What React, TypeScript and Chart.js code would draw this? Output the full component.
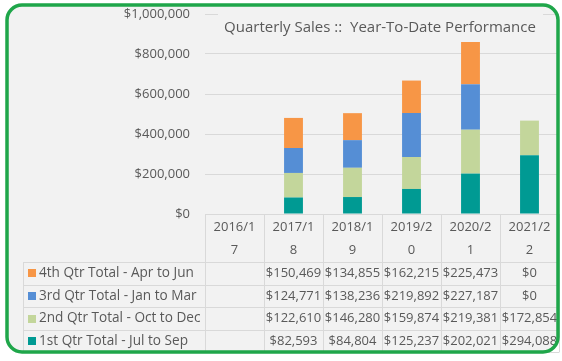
import React, { useEffect, useRef } from 'react';
import { Chart, registerables } from 'chart.js';

Chart.register(...registerables);

const categories = ['2016/17', '2017/18', '2018/19', '2019/20', '2020/21', '2021/22'];
const q1Values = [null, 82593, 84804, 125237, 202021, 294088];
const q2Values = [null, 122610, 146280, 159874, 219381, 172854];
const q3Values = [null, 124771, 138236, 219892, 227187, 0];
const q4Values = [null, 150469, 134855, 162215, 225473, 0];
const seriesNames = [
  '1st Qtr Total - Jul to Sep',
  '2nd Qtr Total - Oct to Dec',
  '3rd Qtr Total - Jan to Mar',
  '4th Qtr Total - Apr to Jun',
];
const seriesColors = ['#009A93', '#C3D69B', '#558ED5', '#F79646'];
const yMax = 1000000;
const yStep = 200000;
const titleText = 'Quarterly Sales ::  Year-To-Date Performance';

const FONT = "'Open Sans', sans-serif";
const TEXT = '#595959';
const LINE = '#d9d9d9';

const money = (v: number | null) => (v === null || v === undefined ? '' : '$' + v.toLocaleString('en-US'));

const framePlugin = {
  id: 'frame',
  beforeDraw(chart: any) {
    const ctx = chart.ctx;
    ctx.save();
    ctx.fillStyle = '#ffffff';
    ctx.fillRect(0, 0, chart.width, chart.height);
    ctx.beginPath();
    ctx.roundRect(7, 5, 551, 347, 15);
    ctx.fillStyle = '#f2f2f2';
    ctx.fill();
    ctx.restore();
  },
  afterDraw(chart: any) {
    const ctx = chart.ctx;
    const x = chart.scales.x;
    const area = chart.chartArea;
    const n = categories.length;
    const colW = (area.right - area.left) / n;
    const headerTop = area.bottom;
    const headerBottom = headerTop + 48;
    const rowH = 22.6;
    const rows = [3, 2, 1, 0];
    const dataRows = [q1Values, q2Values, q3Values, q4Values];
    const tableBottom = headerBottom + rowH * rows.length;
    const legendLeft = 23;

    ctx.save();
    // title
    ctx.fillStyle = '#f2f2f2';
    ctx.fillRect(218, 8, 325, 34);
    ctx.fillStyle = TEXT;
    ctx.font = `15px ${FONT}`;
    ctx.textAlign = 'center';
    ctx.textBaseline = 'middle';
    ctx.fillText(titleText, 380, 28);

    // table lines
    ctx.strokeStyle = LINE;
    ctx.lineWidth = 1;
    const hline = (y: number, x0: number, x1: number) => {
      ctx.beginPath();
      ctx.moveTo(x0, Math.round(y) + 0.5);
      ctx.lineTo(x1, Math.round(y) + 0.5);
      ctx.stroke();
    };
    const vline = (xx: number, y0: number, y1: number) => {
      ctx.beginPath();
      ctx.moveTo(Math.round(xx) + 0.5, y0);
      ctx.lineTo(Math.round(xx) + 0.5, y1);
      ctx.stroke();
    };
    hline(headerTop, area.left, area.right);
    for (let r = 0; r <= rows.length; r++) hline(headerBottom + r * rowH, legendLeft, area.right);
    vline(legendLeft, headerBottom, tableBottom);
    for (let i = 0; i <= n; i++) vline(area.left + i * colW, headerTop, tableBottom);

    // header labels
    ctx.fillStyle = TEXT;
    ctx.font = `13px ${FONT}`;
    ctx.textAlign = 'center';
    categories.forEach((c, i) => {
      const cx = x.getPixelForValue(i);
      ctx.fillText(c.slice(0, 6), cx, headerTop + 13);
      ctx.fillText(c.slice(6), cx, headerTop + 36);
    });

    // rows
    rows.forEach((s, r) => {
      const cy = headerBottom + r * rowH + rowH / 2;
      ctx.fillStyle = seriesColors[s];
      ctx.fillRect(28, Math.round(cy - 4), 8, 8);
      ctx.fillStyle = TEXT;
      ctx.textAlign = 'left';
      ctx.font = `13.6px ${FONT}`;
      ctx.fillText(seriesNames[s], 39, cy);
      ctx.font = `13px ${FONT}`;
      ctx.textAlign = 'center';
      dataRows[s].forEach((v, i) => {
        ctx.fillText(money(v as any), x.getPixelForValue(i), cy);
      });
    });

    // border
    ctx.fillStyle = '#ffffff';
    ctx.fillRect(560, 0, 2, chart.height);
    ctx.fillRect(0, 354, chart.width, 7);
    ctx.beginPath();
    ctx.roundRect(7, 5, 551, 347, 15);
    ctx.strokeStyle = '#1FA64A';
    ctx.lineWidth = 3.5;
    ctx.stroke();
    ctx.restore();
  },
};

export default function App() {
  const ref = useRef<HTMLCanvasElement>(null);
  useEffect(() => {
    if (!ref.current) return;
    const chart = new Chart(ref.current, {
      type: 'bar',
      data: {
        labels: categories,
        datasets: [q1Values, q2Values, q3Values, q4Values].map((d, i) => ({
          label: seriesNames[i],
          data: d as any,
          backgroundColor: seriesColors[i],
          borderWidth: 0,
          categoryPercentage: 1,
          barPercentage: 0.32,
        })),
      },
      options: {
        responsive: false,
        animation: false,
        devicePixelRatio: 1,
        layout: { padding: { left: 0, top: 14, right: 3, bottom: 147 } },
        plugins: { legend: { display: false }, title: { display: false }, tooltip: { enabled: false } },
        scales: {
          x: { stacked: true, display: false },
          y: {
            stacked: true,
            min: 0,
            max: yMax,
            afterFit: (s: any) => {
              s.width = 205;
            },
            ticks: {
              stepSize: yStep,
              padding: 0,
              color: TEXT,
              font: { family: FONT, size: 13 },
              callback: (v: any) => money(Number(v)),
            },
            grid: { color: LINE, drawTicks: true, tickLength: 15, tickColor: 'rgba(0,0,0,0)' },
            border: { display: false },
          },
        },
      },
      plugins: [framePlugin],
    });
    return () => chart.destroy();
  }, []);
  return (
    <canvas
      ref={ref}
      width={562}
      height={361}
      style={{ position: 'fixed', left: 0, top: 0, width: 562, height: 361 }}
    />
  );
}
